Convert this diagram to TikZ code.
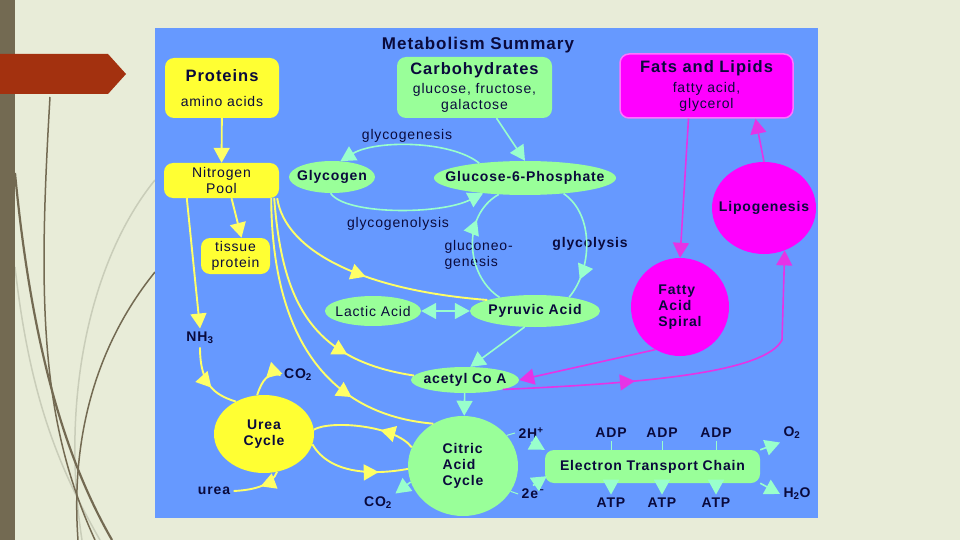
\documentclass[tikz,border=0pt]{standalone}
\usepackage{fontspec}
\setmainfont{Liberation Sans}[LetterSpace=6]
\usetikzlibrary{arrows.meta, positioning, shapes.geometric, calc,
                decorations.markings}

\definecolor{slidebg}{HTML}{E8ECD8}
\definecolor{barbrown}{HTML}{736A52}
\definecolor{stemgray}{HTML}{C9CDB9}
\definecolor{tabred}{HTML}{A3310F}
\definecolor{panelblue}{HTML}{6699FF}
\definecolor{yel}{HTML}{FFFF33}
\definecolor{ylw}{HTML}{FFFF66}
\definecolor{grn}{HTML}{99FF99}
\definecolor{gln}{HTML}{99FFCC}
\definecolor{mag}{HTML}{FF00FF}
\definecolor{magline}{HTML}{E633E6}
\definecolor{ink}{HTML}{0A0A3C}

\newcommand\msreg{\fontsize{14}{16}\selectfont}
\newcommand\msbf{\fontsize{14}{16}\selectfont\bfseries}
\newcommand\mshead{\fontsize{16.5}{19}\selectfont\bfseries}
\newcommand\nowidth[1]{\makebox[0pt]{#1}}

\begin{document}
\begin{tikzpicture}[x=1pt, y=-1pt, font=\msreg, text=ink,
  ybox/.style={fill=yel, rounded corners=9pt, align=center, inner sep=0pt},
  gbox/.style={fill=grn, rounded corners=9pt, align=center, inner sep=0pt},
  gell/.style={ellipse, fill=grn, inner sep=0pt, align=center},
  yell/.style={ellipse, fill=yel, inner sep=0pt, align=center},
  mell/.style={ellipse, fill=mag, inner sep=0pt, align=center},
  yline/.style={draw=ylw, line width=1.9pt},
  gline/.style={draw=gln, line width=1.6pt},
  mline/.style={draw=magline, line width=1.6pt},
  tip/.style={-{Triangle[length=15pt, width=16pt]}},
  midtip/.style={postaction={decorate}, decoration={markings,
      mark=at position #1 with {\arrow{Triangle[length=15pt, width=16pt]}}}}]

  \useasboundingbox (0,0) rectangle (960,540);
  % slide
  \fill[slidebg] (0,0) rectangle (960,540);
  \draw[stemgray, line width=1.5pt] (155,180) .. controls (90,260) and (60,400) .. (82,540);
  \draw[stemgray, line width=1.5pt] (15,267) .. controls (30,400) and (60,470) .. (100,540);
  \draw[barbrown, line width=1.5pt] (50,97) .. controls (38,300) and (40,420) .. (95,540);
  \draw[barbrown, line width=2.2pt] (15,173) .. controls (30,330) and (60,450) .. (112,540);
  \draw[barbrown, line width=1.5pt] (155,272) .. controls (100,340) and (70,430) .. (78,540);
  \fill[barbrown] (0,0) rectangle (15,540);
  \fill[tabred] (0,54) -- (108,54) -- (126,74) -- (108,94) -- (0,94) -- cycle;

  % panel
  \fill[panelblue] (155,28) rectangle (818,518);
  \node[font=\fontsize{17}{20}\selectfont\bfseries] (title) at (478,45) {Metabolism Summary};

  % food groups
  \node[ybox, minimum width=114pt, minimum height=60pt] (proteins) at (222,88)
    {{\mshead Proteins}\\[9pt]amino acids};
  \node[gbox, minimum width=155pt, minimum height=61pt] (carbs) at (474.5,87.5)
    {{\mshead Carbohydrates}\\[3pt]glucose, fructose,\\galactose};
  \node[fill=mag, draw=mag!55!white, line width=1.5pt, rounded corners=9pt,
        align=center, inner sep=0pt, minimum width=173pt, minimum height=64pt]
    (fats) at (706.5,86) {{\mshead Fats and Lipids}\\[4pt]fatty acid,\\glycerol};

  % protein side
  \node[ybox, minimum width=115pt, minimum height=35pt] (npool) at (221.5,180.5) {Nitrogen\\Pool};
  \node[ybox, minimum width=69pt, minimum height=36pt] (tissue) at (235.5,256) {tissue\\protein};
  \node[font=\msbf] (nh3) at (200,338) {NH\textsubscript{3}};
  \node[font=\msbf] (co2a) at (298,375) {CO\textsubscript{2}};
  \node[yell, font=\msbf, minimum width=100pt, minimum height=78pt] (ureacyc) at (264,434) {Urea\\Cycle};
  \node[font=\msbf] (urea) at (214,491) {urea};

  % carbohydrate side
  \node[gell, minimum width=86pt, minimum height=32pt] (glycogen) at (332,177)
    {\nowidth{\msbf Glycogen}};
  \node[gell, minimum width=182pt, minimum height=34pt] (g6p) at (525,178)
    {\nowidth{\msbf Glucose-6-Phosphate}};
  \node (glygen) at (407,136) {glycogenesis};
  \node (glylys) at (398,224) {glycogenolysis};
  \node[anchor=west, align=left] (gneo) at (441,255) {gluconeo-\\genesis};
  \node[font=\msbf] (glycol) at (590,244) {glycolysis};
  \node[gell, minimum width=96pt, minimum height=30pt] (lactic) at (373,311)
    {\nowidth{Lactic Acid}};
  \node[gell, minimum width=130pt, minimum height=32pt] (pyruvic) at (535,311)
    {\nowidth{\msbf Pyruvic Acid}};
  \node[gell, minimum width=108pt, minimum height=26pt] (acoa) at (465,380)
    {\nowidth{\msbf acetyl Co A}};
  \node[gell, font=\msbf, align=left, minimum width=110pt, minimum height=100pt]
    (citric) at (463,466) {Citric\\Acid\\Cycle};
  \node[font=\msbf] (co2b) at (378,503) {CO\textsubscript{2}};

  % fat side
  \node[mell, minimum width=104pt, minimum height=92pt] (lipo) at (764,208)
    {\nowidth{\msbf Lipogenesis}};
  \node[mell, font=\msbf, align=left, minimum width=98pt, minimum height=98pt]
    (fas) at (680,307) {Fatty\\Acid\\Spiral};

  % electron transport
  \node[gbox, font=\msbf, minimum width=215pt, minimum height=33pt] (etc) at (652.5,466.5)
    {Electron Transport Chain};
  \node[font=\msbf] (h2) at (531,433) {2H\textsuperscript{+}};
  \node[font=\msbf] (e2) at (533,494) {2e\textsuperscript{−}};
  \node[font=\msbf] (o2) at (792,433) {O\textsubscript{2}};
  \node[font=\msbf] (h2o) at (797,494) {H\textsubscript{2}O};

  % yellow paths
  \draw[yline, tip] (proteins) -- (npool);
  \draw[yline, tip] ($(npool.south west)+(23,0)$) -- (nh3.north);
  \draw[yline, tip] ($(npool.south)+(10,0)$) -- ($(tissue.north)+(6,0)$);
  \draw[yline, midtip=0.5] ($(npool.south east)+(-2,0)$) .. controls (285,250) and (360,290) .. (pyruvic.167);
  \draw[yline, midtip=0.72] ($(npool.south east)+(-5,0)$) .. controls (282,300) and (310,360) .. (acoa.175);
  \draw[yline, midtip=0.72] ($(npool.south east)+(-8,0)$) .. controls (272,340) and (330,415) .. (citric.125);
  \draw[yline, midtip=0.6] (nh3.south) .. controls (200,385) and (215,395) .. (ureacyc.131);
  \draw[yline, midtip=0.45] (co2a.west) .. controls (268,372) and (262,380) .. (ureacyc.100);
  \draw[yline, midtip=0.45] (ureacyc.-71) .. controls (272,485) and (255,490) .. (urea.east);
  \draw[yline, midtip=0.35] (citric.160) .. controls (395,425) and (330,420) .. (ureacyc.5);
  \draw[yline, midtip=0.72] (ureacyc.-12) .. controls (330,475) and (375,475) .. (citric.183);

  % green paths
  \draw[gline, tip] ($(carbs.south)+(22,0)$) -- (g6p.north);
  \draw[gline, tip] (g6p.162) .. controls (450,140) and (375,140) .. (glycogen.62);
  \draw[gline, tip] (glycogen.-95) .. controls (345,215) and (440,215) .. (g6p.200);
  \draw[gline, midtip=0.82] (g6p.-22) .. controls (595,215) and (592,270) .. (pyruvic.22);
  \draw[gline, midtip=0.72] (pyruvic.159) .. controls (465,275) and (462,215) .. (g6p.212);
  \draw[gline, {Triangle[length=15pt, width=16pt]}-{Triangle[length=15pt, width=16pt]}] (lactic) -- (pyruvic);
  \draw[gline, tip] (pyruvic.237) -- (acoa.68);
  \draw[gline, tip] (acoa) -- (citric);
  \draw[gline, tip] (citric.197) -- (co2b.north east);

  % magenta paths
  \draw[mline, tip] ($(fats.south)+(-18,0)$) -- (fas.north);
  \draw[mline, tip] (lipo.north) -- ($(fats.south)+(49,0)$);
  \draw[mline, tip] (fas.240) -- (acoa.east);
  \draw[mline, tip, midtip=0.35] (acoa.-14) .. controls (650,383) and (765,372) .. (782,340) -- (lipo.-64);

  % electron transport links
  \draw[gline, line width=1pt] (citric.35) -- (h2.west);
  \draw[gline, line width=1pt] (citric.-28) -- (e2.west);
  \draw[gline, tip] (h2.south) -- (etc.north west);
  \draw[gline, tip] (e2.north) -- ($(etc.south west)+(2,-7)$);
  \draw[gline, tip] (etc.north east) -- (o2.south west);
  \draw[gline, tip] (etc.south east) -- (h2o.west);
  \foreach \x [count=\i] in {611,662,716} {
    \node[font=\msbf] (adp\i) at (\x,433) {ADP};
    \node[font=\msbf] (atp\i) at (\x,503) {ATP};
    \draw[gline, line width=1pt] (adp\i.south) -- (adp\i.south |- etc.north);
    \draw[gline, tip] (atp\i.north |- etc.south) -- (atp\i.north);
  }
\end{tikzpicture}
\end{document}
